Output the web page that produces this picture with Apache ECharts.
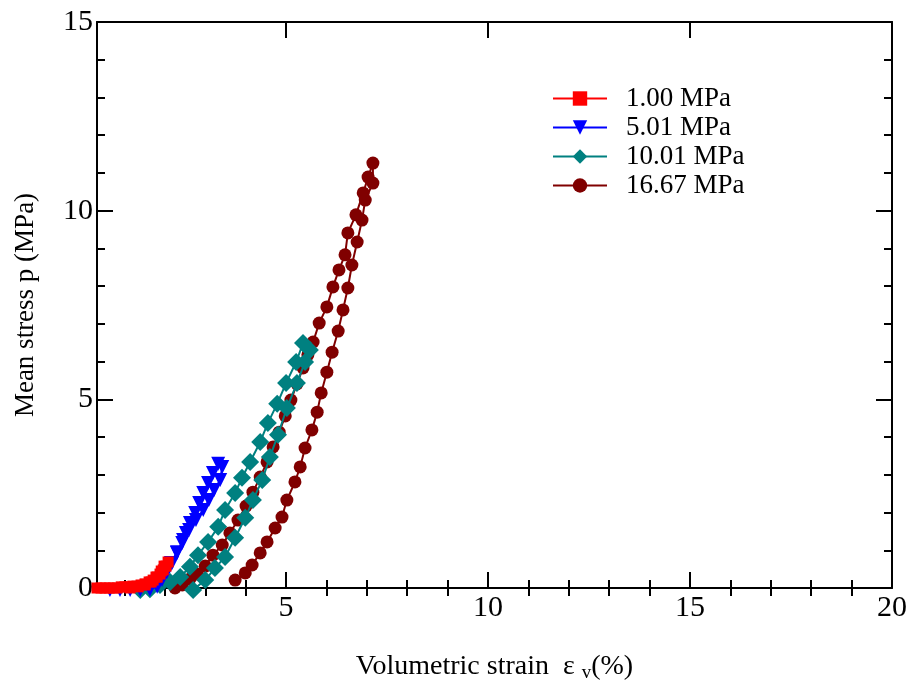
<!DOCTYPE html>
<html>
<head>
<meta charset="utf-8">
<script src="https://cdn.jsdelivr.net/npm/echarts@6/dist/echarts.min.js"></script>
<style>
  html, body { margin: 0; padding: 0; background: #fff; }
  #chart { width: 911px; height: 689px; }
</style>
</head>
<body>
<div id="chart"></div>
<script>
// series names (confining pressure)
const seriesNames = ['1.00 MPa', '5.01 MPa', '10.01 MPa', '16.67 MPa'];

// volumetric strain (%) / mean stress (MPa)
const strain100 = [0.32, 0.42, 0.52, 0.62, 0.72, 0.82, 0.92, 1.01, 1.11, 1.21, 1.31, 1.41, 1.51, 1.61, 1.71, 1.81, 1.88, 1.96, 2.03, 2.08,
  1.98, 1.91, 1.78, 1.66, 1.51, 1.34, 1.14];
const stress100 = [0, 0, 0, 0, 0, 0, 0.03, 0.03, 0.03, 0.05, 0.05, 0.08, 0.11, 0.16, 0.21, 0.29, 0.37, 0.48, 0.58, 0.69,
  0.58, 0.45, 0.29, 0.16, 0.08, 0.03, 0];

const strain501 = [0.64, 0.89, 1.14, 1.39, 1.63, 1.81, 1.93, 2.05, 2.18, 2.30, 2.43, 2.52, 2.62, 2.75, 2.85, 2.95, 3.07, 3.19, 3.32,
  3.42, 3.37, 3.22, 3.09, 2.95, 2.77, 2.60, 2.45, 2.30, 2.15, 2.00, 1.83, 1.63];
const stress501 = [-0.05, -0.05, -0.05, -0.05, -0.03, 0.03, 0.21, 0.42, 0.66, 0.93, 1.19, 1.46, 1.72, 1.99, 2.25, 2.52, 2.78, 3.05, 3.29,
  3.21, 2.86, 2.60, 2.33, 2.07, 1.80, 1.54, 1.27, 0.95, 0.66, 0.40, 0.16, -0.03];

const strain1001 = [1.39, 1.63, 1.88, 2.13, 2.38, 2.62, 2.82, 3.07, 3.32, 3.49, 3.74, 3.91, 4.11, 4.36, 4.55, 4.78, 5.00, 5.25, 5.42,
  5.59, 5.47, 5.27, 5.02, 4.80, 4.60, 4.41, 4.18, 3.99, 3.74, 3.49, 3.24, 3.00, 2.70];
const stress1001 = [-0.05, -0.03, 0.08, 0.16, 0.29, 0.56, 0.87, 1.22, 1.62, 2.07, 2.52, 2.92, 3.34, 3.87, 4.37, 4.88, 5.43, 5.99, 6.49,
  6.31, 5.99, 5.43, 4.77, 4.06, 3.47, 2.86, 2.33, 1.86, 1.33, 0.82, 0.53, 0.21, -0.05];

const strain1667 = [2.25, 2.43, 2.62, 2.80, 3.00, 3.19, 3.42, 3.61, 3.81, 4.01, 4.18, 4.36, 4.53, 4.68, 4.83, 4.98, 5.12, 5.27, 5.42, 5.54,
  5.67, 5.82, 6.01, 6.16, 6.31, 6.46, 6.53, 6.73, 6.91, 7.03, 7.15,
  7.15, 6.96, 6.88, 6.76, 6.63, 6.53, 6.41, 6.29, 6.14, 6.01, 5.87, 5.77, 5.64, 5.47, 5.35, 5.22, 5.02, 4.90, 4.73, 4.53,
  4.36, 4.16, 3.99, 3.74];
const stress1667 = [0, 0.08, 0.24, 0.37, 0.58, 0.87, 1.14, 1.46, 1.80, 2.17, 2.54, 2.94, 3.34, 3.74, 4.13, 4.56, 4.98, 5.41, 5.83, 6.18,
  6.52, 7.02, 7.45, 7.98, 8.43, 8.83, 9.41, 9.89, 10.47, 10.89, 11.26,
  10.73, 10.28, 9.75, 9.17, 8.56, 7.95, 7.37, 6.81, 6.25, 5.72, 5.17, 4.66, 4.19, 3.71, 3.21, 2.81, 2.33, 1.88, 1.59, 1.22,
  0.93, 0.61, 0.40, 0.21];

// axis ticks
const xMajorTicks = [5, 10, 15, 20];
const xMinorTicks = [1, 2, 3, 4, 6, 7, 8, 9, 11, 12, 13, 14, 16, 17, 18, 19];

const font = 'Liberation Serif';
const pair = (xs, ys) => xs.map((x, i) => [x, ys[i]]);

const chart = echarts.init(document.getElementById('chart'));

const xMin = 0.32;
const xMax = 20;

function xAxisDef(pos, ticks, len, opts) {
  return Object.assign({
    type: 'value',
    position: pos,
    min: xMin,
    max: xMax,
    axisLine: { show: true, onZero: false, lineStyle: { color: '#000', width: 2 } },
    axisTick: { show: true, inside: true, length: len, customValues: ticks, lineStyle: { color: '#000', width: 2 } },
    axisLabel: { show: false },
    splitLine: { show: false }
  }, opts || {});
}

const option = {
  animation: false,
  backgroundColor: '#fff',
  grid: { left: 97, right: 19, top: 22, bottom: 101, containLabel: false },
  legend: {
    left: 547,
    top: 80,
    orient: 'vertical',
    itemWidth: 54,
    itemHeight: 18,
    itemGap: 2,
    textStyle: { fontFamily: font, fontSize: 27, color: '#000', padding: [0, 0, 0, 14] },
    data: seriesNames
  },
  xAxis: [
    xAxisDef('bottom', xMajorTicks, 16, {
      name: 'Volumetric strain  ε {sub|v}(%)',
      nameLocation: 'middle',
      nameGap: 62,
      nameTextStyle: {
        fontFamily: font, fontSize: 28, color: '#000',
        rich: { sub: { fontFamily: font, fontSize: 19, color: '#000', padding: [14, 0, 0, 0] } }
      },
      axisLabel: { show: true, customValues: xMajorTicks, fontFamily: font, fontSize: 30, color: '#000', margin: 5 }
    }),
    xAxisDef('bottom', xMinorTicks, 8, { axisLine: { show: false } }),
    xAxisDef('top', xMajorTicks, 16),
    xAxisDef('top', xMinorTicks, 8, { axisLine: { show: false } })
  ],
  yAxis: [
    {
      type: 'value', position: 'left', min: 0, max: 15, interval: 5,
      name: 'Mean stress p (MPa)',
      nameLocation: 'middle',
      nameGap: 58,
      nameTextStyle: { fontFamily: font, fontSize: 27, color: '#000' },
      axisLine: { show: true, onZero: false, lineStyle: { color: '#000', width: 2 } },
      axisTick: { inside: true, length: 16, lineStyle: { color: '#000', width: 2 } },
      minorTick: { show: true, splitNumber: 5, length: 8, lineStyle: { color: '#000', width: 2 } },
      axisLabel: { fontFamily: font, fontSize: 30, color: '#000', margin: 4 },
      splitLine: { show: false }
    },
    {
      type: 'value', position: 'right', min: 0, max: 15, interval: 5,
      axisLine: { show: true, onZero: false, lineStyle: { color: '#000', width: 2 } },
      axisTick: { inside: true, length: 16, lineStyle: { color: '#000', width: 2 } },
      minorTick: { show: true, splitNumber: 5, length: 8, lineStyle: { color: '#000', width: 2 } },
      axisLabel: { show: false },
      splitLine: { show: false }
    }
  ],
  series: [
    {
      name: seriesNames[0], type: 'line', data: pair(strain100, stress100), z: 5,
      symbol: 'rect', symbolSize: 11, color: '#ff0000',
      lineStyle: { width: 2 }, clip: false
    },
    {
      name: seriesNames[1], type: 'line', data: pair(strain501, stress501), z: 4,
      symbol: 'triangle', symbolRotate: 180, symbolSize: 14, color: '#0000ff',
      lineStyle: { width: 2 }, clip: false
    },
    {
      name: seriesNames[2], type: 'line', data: pair(strain1001, stress1001), z: 3,
      symbol: 'diamond', symbolSize: 18, color: '#008080',
      lineStyle: { width: 2 }, clip: false
    },
    {
      name: seriesNames[3], type: 'line', data: pair(strain1667, stress1667), z: 2,
      symbol: 'circle', symbolSize: 13, color: '#800000',
      lineStyle: { width: 2 }, clip: false
    }
  ]
};

chart.setOption(option);
</script>
</body>
</html>
